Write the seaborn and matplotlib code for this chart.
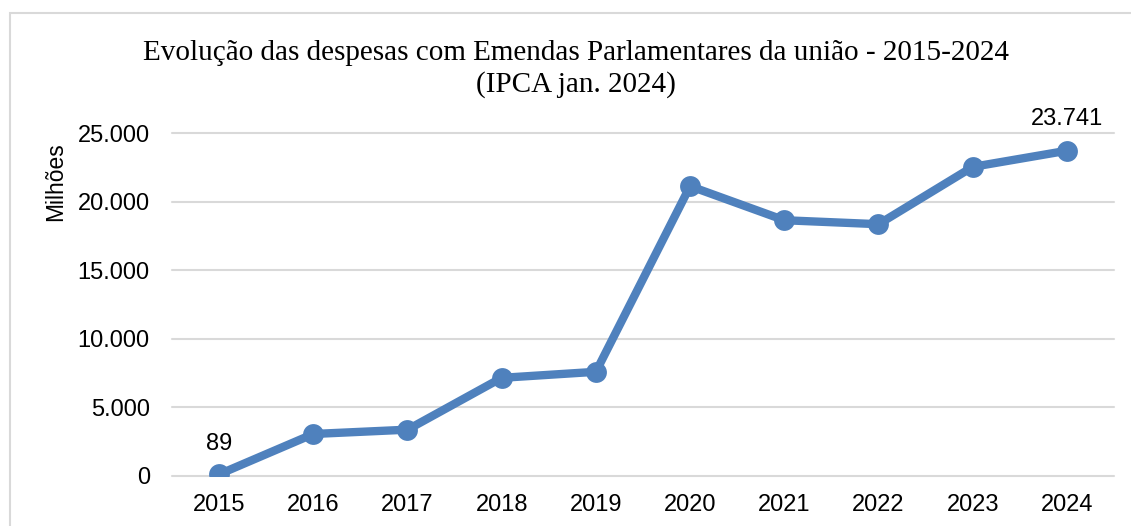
import matplotlib
matplotlib.use("Agg")
import matplotlib.pyplot as plt
import matplotlib.patches as mpatches
import seaborn as sns
import pandas as pd

years = [2015, 2016, 2017, 2018, 2019, 2020, 2021, 2022, 2023, 2024]
values = [89, 3035, 3350, 7140, 7580, 21150, 18660, 18370, 22560, 23741]
y_ticks = [0, 5000, 10000, 15000, 20000, 25000]
y_tick_labels = ["0", "5.000", "10.000", "15.000", "20.000", "25.000"]
title_text = "Evolução das despesas com Emendas Parlamentares da união - 2015-2024\n(IPCA jan. 2024)"
y_label = "Milhões"
labeled_points = {2015: "89", 2024: "23.741"}

sns.set_theme(style="white")
plt.rcParams["font.family"] = ["Liberation Sans", "DejaVu Sans"]

W, H = 1131, 526
fig = plt.figure(figsize=(W / 100, H / 100), dpi=100)
fig.patch.set_facecolor("white")
ax = fig.add_axes([172 / W, (H - 475.5) / H, 942 / W, 342 / H])

df = pd.DataFrame({"year": years, "value": values})
color = "#4F81BD"
sns.lineplot(data=df, x="year", y="value", ax=ax, color=color, linewidth=6,
             marker="o", markersize=15, markeredgewidth=0, zorder=3)

ax.set_xlim(years[0] - 0.5, years[-1] + 0.5)
ax.set_ylim(y_ticks[0], y_ticks[-1])
ax.set_xticks(years)
ax.set_xticklabels([str(y) for y in years])
ax.set_yticks(y_ticks)
ax.set_yticklabels(y_tick_labels)
ax.tick_params(axis="x", length=0, pad=13, labelsize=17, colors="black")
ax.tick_params(axis="y", length=0, pad=16, labelsize=17, colors="black")
ax.set_xlabel("")
ax.set_ylabel("")
for s in ax.spines.values():
    s.set_visible(False)
ax.grid(axis="y", color="#D9D9D9", linewidth=1.5)
ax.grid(axis="x", visible=False)
ax.set_axisbelow(True)
for line in ax.get_ygridlines():
    line.set_clip_on(False)

offsets = {2015: 14, 2024: 15}
for yr, txt in labeled_points.items():
    v = values[years.index(yr)]
    ax.annotate(txt, (yr, v), xytext=(0, offsets[yr]), textcoords="offset points",
                ha="center", va="bottom", fontsize=17, color="black",
                annotation_clip=False)

fig.text(576 / W, 1 - 69 / H, title_text, ha="center", va="center",
         fontsize=21, family=["Liberation Serif", "DejaVu Serif"],
         linespacing=1.25, color="black")
fig.text(56 / W, 1 - 182 / H, y_label, rotation=90, ha="center", va="center",
         fontsize=16.5, color="black")

rect = mpatches.Rectangle((10 / W, -0.2), 1.2, 1.2 - 13 / H, transform=fig.transFigure,
                          fill=False, edgecolor="#D9D9D9", linewidth=1.5, clip_on=False)
fig.patches.append(rect)

fig.savefig("out.png", dpi=100)
